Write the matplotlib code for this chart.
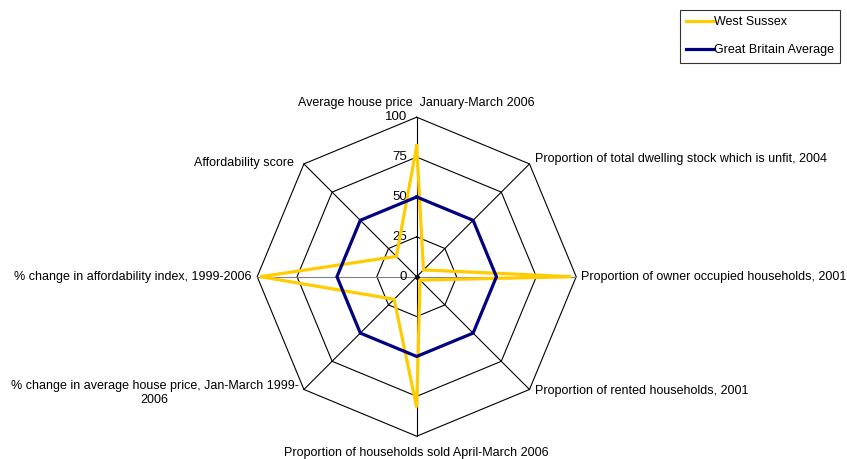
import numpy as np
import matplotlib
matplotlib.use("Agg")
import matplotlib.pyplot as plt

plt.rcParams['font.family'] = ['Liberation Sans', 'DejaVu Sans']

categories = [
    "Average house price  January-March 2006",
    "Proportion of total dwelling stock which is unfit, 2004",
    "Proportion of owner occupied households, 2001",
    "Proportion of rented households, 2001",
    "Proportion of households sold April-March 2006",
    "% change in average house price, Jan-March 1999-\n2006",
    "% change in affordability index, 1999-2006",
    "Affordability score",
]
west_sussex = [82, 6, 97, 3, 82, 20, 98, 18]
gb_average = [50, 50, 50, 50, 50, 50, 50, 50]
rings = [25, 50, 75, 100]
series = [
    {"label": "West Sussex", "values": west_sussex, "color": "#FFCC00"},
    {"label": "Great Britain Average", "values": gb_average, "color": "#000080"},
]

W, H, dpi = 847, 459, 100
cx, cy = 416.7, 276.7        # centre of the radar in pixels (from top)
scale = 1.595                # pixels per value unit

fig = plt.figure(figsize=(W / dpi, H / dpi), dpi=dpi)
ax = fig.add_axes([0, 0, 1, 1])
ax.set_xlim(-cx / scale, (W - cx) / scale)
ax.set_ylim(-(H - cy) / scale, cy / scale)
ax.axis("off")

n = len(categories)
angles = np.deg2rad(90 - 360.0 / n * np.arange(n))


def to_xy(vals):
    vals = np.asarray(vals, dtype=float)
    return vals * np.cos(angles), vals * np.sin(angles)


# octagon grid
for r in rings:
    x, y = to_xy([r] * n)
    ax.plot(np.append(x, x[0]), np.append(y, y[0]), color="black", lw=0.8, zorder=1)

# spokes
for i, a in enumerate(angles):
    col = "#808080" if i in (2, 6) else "black"
    ax.plot([0, 100 * np.cos(a)], [0, 100 * np.sin(a)], color=col, lw=0.8, zorder=1)
ax.plot([0], [0], "o", color="black", ms=2.5, zorder=1)

# value axis labels
for r in [0] + rings:
    ax.text(-6, r, str(r), ha="right", va="center", fontsize=9.5)

# series
for z, s in enumerate(series):
    x, y = to_xy(s["values"])
    ax.plot(np.append(x, x[0]), np.append(y, y[0]), color=s["color"], lw=2.3,
            label=s["label"], zorder=3 + z, solid_joinstyle="miter")

# category labels
fs = 9
ax.text(0, 109, categories[0], ha="center", va="center", fontsize=fs)
ax.text(74, 74, categories[1], ha="left", va="center", fontsize=fs)
ax.text(103.3, 0, categories[2], ha="left", va="center", fontsize=fs)
ax.text(74, -71.5, categories[3], ha="left", va="center", fontsize=fs)
ax.text(0, -110.5, categories[4], ha="center", va="center", fontsize=fs)
ax.text(-74, -73, categories[5], ha="right", va="center", fontsize=fs,
        multialignment="center")
ax.text(-103.5, 0, categories[6], ha="right", va="center", fontsize=fs)
ax.text(-77, 71.5, categories[7], ha="right", va="center", fontsize=fs)

leg = fig.legend(loc="upper left", bbox_to_anchor=(680 / W, 1 - 10 / H),
                 bbox_transform=fig.transFigure, fontsize=fs, frameon=True,
                 fancybox=False, edgecolor="black", handlelength=2.2,
                 handletextpad=0.0, labelspacing=1.3, borderpad=0.5,
                 borderaxespad=0)
leg.get_frame().set_linewidth(0.8)

fig.savefig("out.png", dpi=dpi)
